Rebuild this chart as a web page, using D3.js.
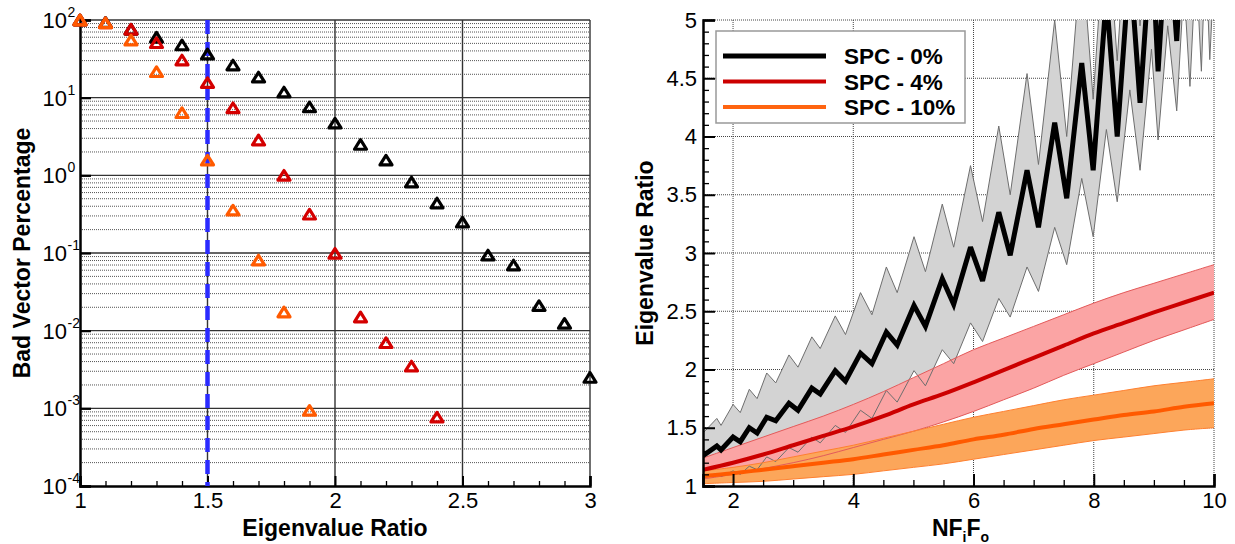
<!DOCTYPE html>
<html>
<head>
<meta charset="utf-8">
<script src="https://cdn.jsdelivr.net/npm/d3@7"></script>
<style>
  body { margin: 0; background: #fff; }
  svg { display: block; }
  text { font-family: "Liberation Sans", Arial, Helvetica, sans-serif; fill: #000; }
</style>
</head>
<body>
<svg id="chart" width="1235" height="544"></svg>
<script>
// ---------- Left panel: bad vector percentage vs eigenvalue ratio threshold ----------
const ratioSteps = [1.0, 1.1, 1.2, 1.3, 1.4, 1.5, 1.6, 1.7, 1.8, 1.9, 2.0,
                    2.1, 2.2, 2.3, 2.4, 2.5, 2.6, 2.7, 2.8, 2.9, 3.0];
const badPctSpc0 = [100, 93, 76, 60, 47.7, 36.5, 26.3, 18.4, 11.8, 7.6, 4.7,
                    2.5, 1.57, 0.82, 0.44, 0.25, 0.094, 0.07, 0.021, 0.0124, 0.0025];
const badPctSpc4 = [100, 92, 76, 51, 30.5, 15.6, 7.4, 2.85, 1.0, 0.316, 0.099,
                    0.015, 0.0070, 0.0035, 0.00077];
const badPctSpc10 = [100, 92, 55, 21.6, 6.4, 1.57, 0.356, 0.081, 0.0174, 0.00094];
const thresholdRatio = 1.5;
const leftXTicks = [1, 1.5, 2, 2.5, 3];
const leftYExponents = [2, 1, 0, -1, -2, -3, -4];

// ---------- Right panel: eigenvalue ratio vs NFiFo ----------
// SPC 0%: vertices of the saw-tooth mean and its min/max envelope
const spc0X = [1.5, 1.73, 1.80, 2.00, 2.12, 2.27, 2.40, 2.56, 2.71, 2.93, 3.08, 3.31, 3.45, 3.70,
               3.87, 4.12, 4.31, 4.55, 4.73, 5.01, 5.20, 5.48, 5.67, 5.95, 6.15, 6.42, 6.61, 6.89,
               7.08, 7.35, 7.55, 7.80, 7.99, 8.21, 8.39, 8.60, 8.77, 8.96, 9.07, 9.23, 9.38, 9.50,
               9.60, 9.70, 9.79, 9.86, 9.93, 10.0];
const spc0Mean = [1.26, 1.344, 1.31, 1.42, 1.38, 1.50, 1.455, 1.59, 1.56, 1.71, 1.65, 1.84, 1.79, 1.99,
                  1.90, 2.14, 2.05, 2.32, 2.21, 2.55, 2.37, 2.78, 2.56, 3.05, 2.76, 3.35, 2.98, 3.71,
                  3.22, 4.12, 3.47, 4.63, 3.71, 5.2, 4.00, 5.5, 4.29, 5.7, 4.56, 5.9, 4.82, 6.0,
                  5.1, 6.1, 5.3, 6.2, 5.4, 5.8];
const spc0High = [1.455, 1.58, 1.52, 1.70, 1.63, 1.83, 1.75, 1.97, 1.885, 2.125, 2.02, 2.28, 2.18, 2.46,
                  2.30, 2.66, 2.47, 2.88, 2.66, 3.14, 2.84, 3.42, 3.05, 3.75, 3.27, 4.09, 3.50, 4.54,
                  3.76, 5.0, 4.0, 5.6, 4.32, 6.0, 4.65, 6.3, 4.95, 6.5, 5.2, 6.7, 5.5, 6.8,
                  5.7, 6.9, 5.9, 7.0, 6.0, 6.5];
const spc0Low = [1.07, 1.10, 1.08, 1.13, 1.10, 1.17, 1.14, 1.25, 1.21, 1.33, 1.29, 1.42, 1.37, 1.52,
                 1.46, 1.65, 1.58, 1.82, 1.72, 1.99, 1.86, 2.17, 2.05, 2.40, 2.24, 2.61, 2.45, 2.88,
                 2.67, 3.22, 2.90, 3.64, 3.14, 4.06, 3.44, 4.4, 3.71, 4.75, 3.97, 4.95, 4.22, 5.3,
                 4.43, 5.5, 4.56, 5.6, 4.66, 5.4];

// SPC 4% and 10%: smooth mean with band
const nfX = [1.5, 2, 2.5, 3, 3.5, 4, 4.5, 5, 5.5, 6, 6.5, 7, 7.5, 8, 8.5, 9, 9.5, 10];
const spc4Mean = [1.14, 1.20, 1.27, 1.35, 1.43, 1.51, 1.60, 1.70, 1.79, 1.89, 1.995, 2.10, 2.205, 2.31, 2.40, 2.49, 2.575, 2.66];
const spc4High = [1.24, 1.33, 1.42, 1.51, 1.60, 1.70, 1.81, 1.93, 2.05, 2.17, 2.27, 2.37, 2.47, 2.57, 2.66, 2.74, 2.82, 2.90];
const spc4Low  = [1.06, 1.10, 1.15, 1.20, 1.26, 1.33, 1.40, 1.47, 1.55, 1.64, 1.74, 1.84, 1.95, 2.05, 2.15, 2.25, 2.34, 2.43];
const spc10Mean = [1.085, 1.11, 1.14, 1.17, 1.20, 1.23, 1.27, 1.31, 1.35, 1.40, 1.44, 1.49, 1.53, 1.57, 1.61, 1.64, 1.68, 1.71];
const spc10High = [1.13, 1.16, 1.20, 1.25, 1.30, 1.35, 1.41, 1.47, 1.53, 1.59, 1.64, 1.69, 1.74, 1.78, 1.82, 1.86, 1.89, 1.92];
const spc10Low  = [1.02, 1.03, 1.04, 1.06, 1.08, 1.10, 1.13, 1.16, 1.19, 1.23, 1.27, 1.31, 1.35, 1.39, 1.42, 1.45, 1.48, 1.50];

const rightXTicks = [2, 4, 6, 8, 10];
const rightYTicks = [1, 1.5, 2, 2.5, 3, 3.5, 4, 4.5, 5];
const legendLabels = ["SPC - 0%", "SPC - 4%", "SPC - 10%"];

const COL = {
  black: "#000000", red: "#cc0000", orange: "#ff5a00",
  grayFill: "#d3d3d3", grayEdge: "#6e6e6e",
  pinkFill: "#fba4a4", pinkEdge: "#e35a5a",
  orangeFill: "#fca65a", orangeEdge: "#ff8030",
  blue: "#2b2bff"
};
const TICK_FONT = 22, TITLE_FONT = 23;

const svg = d3.select("#chart");

// ======================= LEFT PANEL =======================
const L = { x0: 80, x1: 590, y0: 20, y1: 486 };
const lx = d3.scaleLinear().domain([1, 3]).range([L.x0, L.x1]);
const ly = d3.scaleLog().domain([1e-4, 1e2]).range([L.y1, L.y0]);
const gl = svg.append("g");

// minor horizontal grid (dotted)
const minorVals = [];
for (let e = -4; e < 2; e++) for (let k = 2; k <= 9; k++) minorVals.push(k * Math.pow(10, e));
gl.append("g").selectAll("line").data(minorVals).join("line")
  .attr("x1", L.x0).attr("x2", L.x1)
  .attr("y1", d => ly(d)).attr("y2", d => ly(d))
  .attr("stroke", "#555").attr("stroke-width", 1).attr("stroke-dasharray", "1,1");
// major horizontal grid (solid)
gl.append("g").selectAll("line").data([1e-3, 1e-2, 1e-1, 1, 10]).join("line")
  .attr("x1", L.x0).attr("x2", L.x1)
  .attr("y1", d => ly(d)).attr("y2", d => ly(d))
  .attr("stroke", "#333").attr("stroke-width", 1.4);
// vertical grid
gl.append("g").selectAll("line").data([1.5, 2, 2.5]).join("line")
  .attr("x1", d => lx(d)).attr("x2", d => lx(d))
  .attr("y1", L.y0).attr("y2", L.y1)
  .attr("stroke", "#333").attr("stroke-width", 1.4);
// frame
gl.append("line").attr("x1", L.x0).attr("x2", L.x1).attr("y1", L.y0).attr("y2", L.y0)
  .attr("stroke", "#333").attr("stroke-width", 1.4);
gl.append("line").attr("x1", L.x1).attr("x2", L.x1).attr("y1", L.y0).attr("y2", L.y1)
  .attr("stroke", "#333").attr("stroke-width", 1.4);

// axes
const lAxisB = d3.axisBottom(lx).tickValues(d3.range(1.1, 2.95, 0.1).filter(v => Math.abs(v * 2 - Math.round(v * 2)) > 1e-6))
  .tickSize(-5).tickFormat("");
gl.append("g").attr("transform", `translate(0,${L.y1})`).call(lAxisB)
  .call(g => g.select(".domain").remove())
  .call(g => g.selectAll(".tick line").attr("stroke", "#000").attr("stroke-width", 1.3));
const lAxisBMaj = d3.axisBottom(lx).tickValues(leftXTicks).tickSize(-10).tickPadding(6)
  .tickFormat(d => d3.format("")(d));
gl.append("g").attr("transform", `translate(0,${L.y1})`).call(lAxisBMaj)
  .call(g => g.select(".domain").attr("stroke", "#000").attr("stroke-width", 2.5))
  .call(g => g.selectAll(".tick line").attr("stroke", "#000").attr("stroke-width", 2))
  .call(g => g.selectAll(".tick text").attr("font-size", TICK_FONT).attr("dy", "0.71em")
    .attr("font-family", "Liberation Sans, Arial, sans-serif"));

const lAxisL = d3.axisLeft(ly).tickValues(leftYExponents.map(e => Math.pow(10, e)))
  .tickSize(-11).tickFormat("");
gl.append("g").attr("transform", `translate(${L.x0},0)`).call(lAxisL)
  .call(g => g.select(".domain").attr("stroke", "#000").attr("stroke-width", 2.5))
  .call(g => g.selectAll(".tick line").attr("stroke", "#000").attr("stroke-width", 2.2));

// "10^n" labels
gl.append("g").selectAll("text").data(leftYExponents).join("text")
  .attr("x", 67).attr("y", d => ly(Math.pow(10, d)) + 8)
  .attr("text-anchor", "end").attr("font-size", TICK_FONT).text("10");
gl.append("g").selectAll("text").data(leftYExponents).join("text")
  .attr("x", 67.5).attr("y", d => ly(Math.pow(10, d)) - 3)
  .attr("font-size", 14).text(d => d);

// threshold line
gl.append("line").attr("x1", lx(thresholdRatio)).attr("x2", lx(thresholdRatio))
  .attr("y1", L.y0).attr("y2", L.y1)
  .attr("stroke", COL.blue).attr("stroke-width", 4.5).attr("stroke-dasharray", "14,8");

// triangle markers
const triangle = {
  draw(ctx, size) {
    const w = size / 2, h = size * 0.4;
    ctx.moveTo(0, -h); ctx.lineTo(w, h); ctx.lineTo(-w, h); ctx.closePath();
  }
};
const tri = d3.symbol().type(triangle).size(12);
function drawMarkers(vals, color) {
  gl.append("g").selectAll("path").data(vals).join("path")
    .attr("transform", (d, i) => `translate(${lx(ratioSteps[i])},${ly(d)})`)
    .attr("d", tri)
    .attr("fill", "none").attr("stroke", color).attr("stroke-width", 3.2)
    .attr("stroke-linejoin", "round");
}
drawMarkers(badPctSpc0, COL.black);
drawMarkers(badPctSpc4, "#d40000");
drawMarkers(badPctSpc10, COL.orange);

// titles
gl.append("text").attr("x", (L.x0 + L.x1) / 2).attr("y", 536).attr("text-anchor", "middle")
  .attr("font-size", TITLE_FONT).attr("font-weight", "bold").text("Eigenvalue Ratio");
gl.append("text").attr("transform", `translate(30,${(L.y0 + L.y1) / 2}) rotate(-90)`)
  .attr("text-anchor", "middle").attr("font-size", TITLE_FONT).attr("font-weight", "bold")
  .text("Bad Vector Percentage");

// ======================= RIGHT PANEL =======================
const R = { x0: 703, x1: 1214, y0: 20, y1: 486 };
const rx = d3.scaleLinear().domain([1.5, 10]).range([R.x0, R.x1]);
const ry = d3.scaleLinear().domain([1, 5]).range([R.y1, R.y0]);
const gr = svg.append("g");

svg.append("defs").append("clipPath").attr("id", "rclip")
  .append("rect").attr("x", R.x0).attr("y", R.y0).attr("width", R.x1 - R.x0).attr("height", R.y1 - R.y0);

// dotted grid
gr.append("g").selectAll("line").data([2, 4, 6, 8, 10]).join("line")
  .attr("x1", d => rx(d)).attr("x2", d => rx(d)).attr("y1", R.y0).attr("y2", R.y1)
  .attr("stroke", "#444").attr("stroke-width", 1).attr("stroke-dasharray", "1,1");
gr.append("g").selectAll("line").data([1.5, 2, 2.5, 3, 3.5, 4, 4.5, 5]).join("line")
  .attr("x1", R.x0).attr("x2", R.x1).attr("y1", d => ry(d)).attr("y2", d => ry(d))
  .attr("stroke", "#444").attr("stroke-width", 1).attr("stroke-dasharray", "1,1");

const data = gr.append("g").attr("clip-path", "url(#rclip)");

function band(xs, lo, hi, curve) {
  return d3.area().x((d, i) => rx(xs[i])).y0((d, i) => ry(lo[i])).y1((d, i) => ry(hi[i])).curve(curve)(xs);
}
function line(xs, ys, curve) {
  return d3.line().x((d, i) => rx(xs[i])).y((d, i) => ry(ys[i])).curve(curve)(xs);
}
const lin = d3.curveLinear, smooth = d3.curveCatmullRom.alpha(0.5);

// fills
data.append("path").attr("d", band(spc0X, spc0Low, spc0High, lin)).attr("fill", COL.grayFill);
data.append("path").attr("d", band(nfX, spc4Low, spc4High, smooth)).attr("fill", COL.pinkFill);
data.append("path").attr("d", band(nfX, spc10Low, spc10High, smooth)).attr("fill", COL.orangeFill);
// band edges
[[spc0X, spc0Low, lin, COL.grayEdge], [spc0X, spc0High, lin, COL.grayEdge],
 [nfX, spc4Low, smooth, COL.pinkEdge], [nfX, spc4High, smooth, COL.pinkEdge],
 [nfX, spc10Low, smooth, COL.orangeEdge], [nfX, spc10High, smooth, COL.orangeEdge]]
  .forEach(([xs, ys, c, col]) => data.append("path").attr("d", line(xs, ys, c))
    .attr("fill", "none").attr("stroke", col).attr("stroke-width", 1));
// mean lines
data.append("path").attr("d", line(spc0X, spc0Mean, lin)).attr("fill", "none")
  .attr("stroke", COL.black).attr("stroke-width", 5).attr("stroke-linejoin", "miter").attr("stroke-miterlimit", 3);
data.append("path").attr("d", line(nfX, spc4Mean, smooth)).attr("fill", "none")
  .attr("stroke", COL.red).attr("stroke-width", 4);
data.append("path").attr("d", line(nfX, spc10Mean, smooth)).attr("fill", "none")
  .attr("stroke", COL.orange).attr("stroke-width", 4);

// axes
const rAxisBMin = d3.axisBottom(rx).tickValues(d3.range(2.5, 10, 0.5).filter(v => v % 2 !== 0))
  .tickSize(-6).tickFormat("");
gr.append("g").attr("transform", `translate(0,${R.y1})`).call(rAxisBMin)
  .call(g => g.select(".domain").remove())
  .call(g => g.selectAll(".tick line").attr("stroke", "#000").attr("stroke-width", 1.3));
const rAxisB = d3.axisBottom(rx).tickValues(rightXTicks).tickSize(-12).tickPadding(6);
gr.append("g").attr("transform", `translate(0,${R.y1})`).call(rAxisB)
  .call(g => g.select(".domain").attr("stroke", "#000").attr("stroke-width", 2.5))
  .call(g => g.selectAll(".tick line").attr("stroke", "#000").attr("stroke-width", 2))
  .call(g => g.selectAll(".tick text").attr("font-size", TICK_FONT).attr("dy", "0.71em")
    .attr("font-family", "Liberation Sans, Arial, sans-serif"));

const rAxisLMin = d3.axisLeft(ry).tickValues(d3.range(1.1, 5, 0.1).filter(v => Math.abs(v * 2 - Math.round(v * 2)) > 1e-6))
  .tickSize(-6).tickFormat("");
gr.append("g").attr("transform", `translate(${R.x0},0)`).call(rAxisLMin)
  .call(g => g.select(".domain").remove())
  .call(g => g.selectAll(".tick line").attr("stroke", "#000").attr("stroke-width", 1.3));
const rAxisL = d3.axisLeft(ry).tickValues(rightYTicks).tickSize(-12).tickPadding(6)
  .tickFormat(d => d3.format("")(d));
gr.append("g").attr("transform", `translate(${R.x0},0)`).call(rAxisL)
  .call(g => g.select(".domain").attr("stroke", "#000").attr("stroke-width", 2.5))
  .call(g => g.selectAll(".tick line").attr("stroke", "#000").attr("stroke-width", 2))
  .call(g => g.selectAll(".tick text").attr("font-size", TICK_FONT).attr("x", -6)
    .attr("font-family", "Liberation Sans, Arial, sans-serif"));

// legend
const lg = gr.append("g");
lg.append("rect").attr("x", 716).attr("y", 31).attr("width", 249).attr("height", 92)
  .attr("fill", "#fff").attr("stroke", "#999").attr("stroke-width", 1.5);
const legendColors = [COL.black, COL.red, "#ff6410"];
const legendWidths = [5, 4, 4];
legendLabels.forEach((lab, i) => {
  const yy = 56 + i * 25.5;
  lg.append("line").attr("x1", 723).attr("x2", 826).attr("y1", yy).attr("y2", yy)
    .attr("stroke", legendColors[i]).attr("stroke-width", legendWidths[i]);
  lg.append("text").attr("x", 844).attr("y", yy + 8).attr("font-size", 22.5)
    .attr("font-weight", "bold").text(lab);
});

// titles
const xt = gr.append("text").attr("x", (R.x0 + R.x1) / 2 + 2).attr("y", 536).attr("text-anchor", "middle")
  .attr("font-size", TITLE_FONT).attr("font-weight", "bold");
xt.append("tspan").text("NF");
xt.append("tspan").attr("font-size", 14).attr("dy", 6).text("i");
xt.append("tspan").attr("dy", -6).text("F");
xt.append("tspan").attr("font-size", 14).attr("dy", 6).text("o");
gr.append("text").attr("transform", `translate(653,${(R.y0 + R.y1) / 2}) rotate(-90)`)
  .attr("text-anchor", "middle").attr("font-size", TITLE_FONT).attr("font-weight", "bold")
  .text("Eigenvalue Ratio");
</script>
</body>
</html>
